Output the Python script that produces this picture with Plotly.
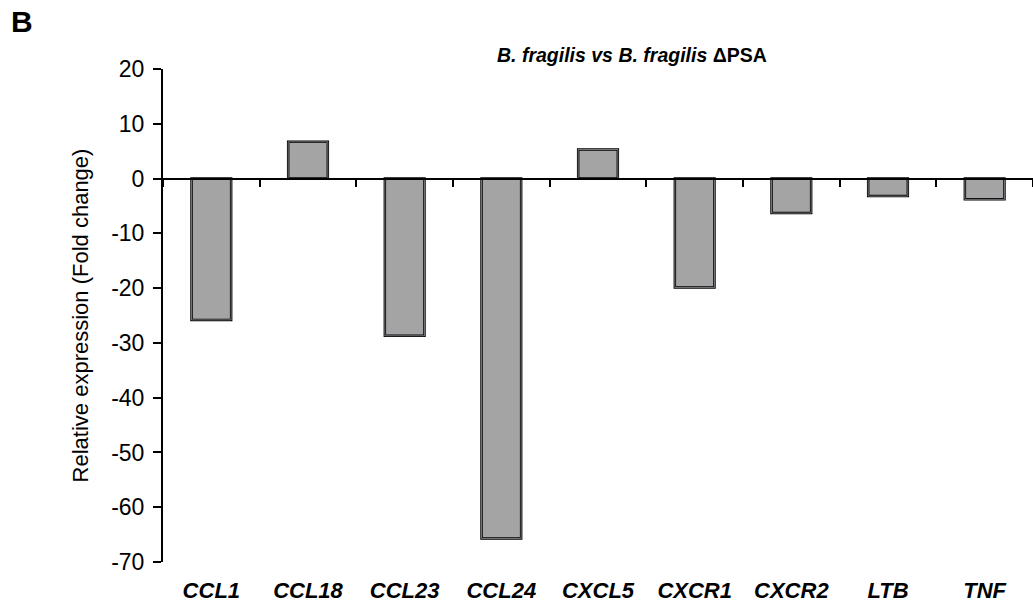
import plotly.graph_objects as go

# Gene expression fold changes (B. fragilis vs B. fragilis ΔPSA)
genes = ["CCL1", "CCL18", "CCL23", "CCL24", "CXCL5", "CXCR1", "CXCR2", "LTB", "TNF"]
fold_change = [-25.8, 6.7, -28.7, -65.7, 5.3, -19.9, -6.3, -3.2, -3.8]
y_ticks = [20, 10, 0, -10, -20, -30, -40, -50, -60, -70]
y_tick_text = ["20", "10", "0", "-10", "-20", "-30", "-40", "-50", "-60", "-70"]

Y_MIN, Y_MAX = -70, 20
BAR_FILL = "#a4a4a4"
FONT = "Arial, Liberation Sans, sans-serif"

fig = go.Figure()

fig.add_trace(go.Bar(
    x=genes,
    y=fold_change,
    width=0.41,
    marker=dict(color=BAR_FILL, line=dict(color="black", width=2.5)),
    xaxis="x",
    yaxis="y",
    showlegend=False,
))

# invisible copy so the bottom label axis is drawn
fig.add_trace(go.Bar(
    x=genes,
    y=fold_change,
    width=0.41,
    marker=dict(color="rgba(0,0,0,0)"),
    xaxis="x2",
    yaxis="y",
    hoverinfo="skip",
    showlegend=False,
))

zero_pos = (0 - Y_MIN) / (Y_MAX - Y_MIN)

fig.update_layout(
    width=1033,
    height=603,
    margin=dict(l=163, r=0, t=69, b=41),
    plot_bgcolor="white",
    paper_bgcolor="white",
    font=dict(family=FONT, color="black"),
    bargap=0.59,
    xaxis=dict(
        type="category",
        categoryorder="array",
        categoryarray=genes,
        anchor="free",
        position=zero_pos,
        showline=True,
        linecolor="black",
        linewidth=2,
        ticks="outside",
        tickson="boundaries",
        ticklen=7,
        tickwidth=2,
        tickcolor="black",
        showticklabels=False,
        showgrid=False,
        zeroline=False,
        range=[-0.5, len(genes) - 0.5],
    ),
    xaxis2=dict(
        type="category",
        categoryorder="array",
        categoryarray=genes,
        overlaying="x",
        matches="x",
        anchor="y",
        side="bottom",
        showline=False,
        ticks="",
        showgrid=False,
        zeroline=False,
        tickfont=dict(family=FONT, size=22, weight="bold", style="italic"),
        ticklabelstandoff=13,
    ),
    yaxis=dict(
        range=[Y_MIN, Y_MAX],
        tickvals=y_ticks,
        ticktext=y_tick_text,
        showline=True,
        linecolor="black",
        linewidth=2,
        ticks="outside",
        ticklen=8,
        tickwidth=2,
        tickcolor="black",
        showgrid=False,
        zeroline=False,
        tickfont=dict(family=FONT, size=23),
        ticklabelstandoff=4,
        title=dict(
            text="Relative expression (Fold change)",
            font=dict(family=FONT, size=22),
            standoff=16,
        ),
    ),
    annotations=[
        dict(
            text="<b><i>B. fragilis vs B. fragilis</i> ΔPSA</b>",
            xref="paper", yref="paper",
            x=0.539, y=1.028,
            xanchor="center", yanchor="middle",
            showarrow=False,
            font=dict(family=FONT, size=19.5),
        ),
        dict(
            text="<b>B</b>",
            xref="paper", yref="paper",
            x=-0.162, y=1.097,
            xanchor="center", yanchor="middle",
            showarrow=False,
            font=dict(family=FONT, size=30),
        ),
    ],
)

fig.write_html("out.html")
